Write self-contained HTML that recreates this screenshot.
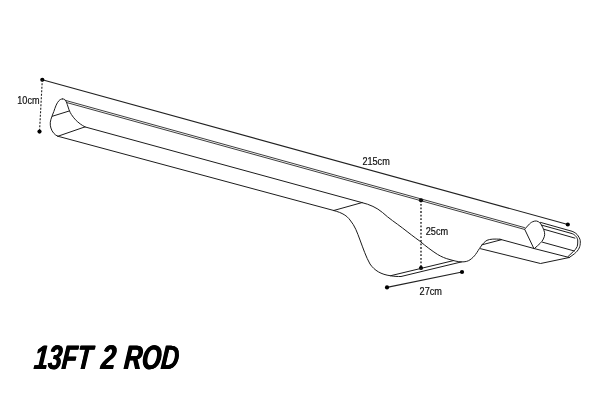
<!DOCTYPE html>
<html><head><meta charset="utf-8">
<style>
html,body{margin:0;padding:0;background:#fff;}
body{width:600px;height:400px;overflow:hidden;position:relative;filter:grayscale(1);}
svg{position:absolute;left:0;top:0;display:block}
text{font-family:"Liberation Sans",sans-serif;fill:#111;font-size:10px;stroke:#111;stroke-width:0.2px}
.l{fill:none;stroke:#1c1c1c;stroke-width:1;stroke-linecap:round;stroke-linejoin:round}
.d{fill:none;stroke:#222;stroke-width:1.1;}
.dot{fill:#000}
.t{position:absolute;top:341.3px;font:italic bold 33.9px/1 'Liberation Sans',sans-serif;color:#000;white-space:nowrap;transform-origin:0 100%;text-shadow:0.6px 0 0 #000,-0.6px 0 0 #000;}
</style></head><body>
<svg width="600" height="400" viewBox="0 0 600 400">
<!-- dimension 215 -->
<path class="d" d="M42.3 79.75 L566 224"/>
<circle class="dot" cx="42.3" cy="79.75" r="2.1"/>
<circle class="dot" cx="567.8" cy="224.5" r="2.1"/>
<!-- 10cm dashed -->
<path class="d" d="M42.3 79.75 L39.5 131.6" stroke-dasharray="2 1.5"/>
<circle class="dot" cx="39.5" cy="131.6" r="2.1"/>
<text x="17.3" y="103.7" textLength="22.2" lengthAdjust="spacingAndGlyphs">10cm</text>
<text x="362.4" y="164.7" textLength="27.4" lengthAdjust="spacingAndGlyphs">215cm</text>
<text x="425.7" y="234.5" textLength="22.4" lengthAdjust="spacingAndGlyphs">25cm</text>
<text x="419.6" y="294.7" textLength="22.4" lengthAdjust="spacingAndGlyphs">27cm</text>
<!-- 25cm dotted -->
<path class="d" d="M421 200.3 L421 268" stroke-dasharray="1.8 1.8" style="stroke:#000;stroke-width:1.2"/>
<circle class="dot" cx="421" cy="200.3" r="2.1"/>
<circle class="dot" cx="421" cy="268" r="2.1"/>
<!-- 27cm -->
<path class="d" d="M387 287.4 L462 272"/>
<circle class="dot" cx="387" cy="287.4" r="2.1"/>
<circle class="dot" cx="462" cy="272" r="2.1"/>

<!-- left end cap -->
<path class="l" d="M62.6 98.9 C61.2 98.9 60 99.6 59.1 100.5 C57.8 101.9 56.9 103.5 56.15 105.15 C55.2 107.3 54.5 109.5 53.8 111.6 C53.1 113.3 52.5 114.8 52 116.3 C51.2 118.3 50.6 120.2 50.3 122.2 C50.1 124.2 50.3 126.2 50.9 128 C51.5 130 52.5 131.8 53.8 133.3 C55 134.7 56.3 135.6 57.9 136.25"/>
<path class="l" d="M62.6 98.9 C63.8 98.9 64.9 99.4 65.55 100.45 C66.5 101.8 66.9 103.2 67.3 104.6 C67.9 106.3 68.4 108 69.05 109.85 C69.7 111.6 70.5 113.1 71.4 114.5 C72.6 116.4 74 118.1 75.5 119.8 C77 121.3 78.5 122.6 80.2 123.9 C81.8 125 83.3 126 84.9 126.9"/>
<path class="l" d="M52.2 116.3 L69.2 111"/>
<path class="l" d="M57.9 136.25 L84.9 126.9"/>
<!-- long lines -->
<path class="l" d="M65.1 100.3 L524.5 227.6" style="stroke-width:.85"/>
<path class="l" d="M66.5 102.5 L524.5 229.4" style="stroke-width:.85"/>
<path class="l" d="M84.9 126.9 L362 202.6"/>
<path class="l" d="M57.9 136.25 L333.75 210.5"/>
<path class="l" d="M333.75 210.5 L362 202.6"/>
<!-- dip -->
<path class="l" d="M333.75 210.5 C343 213 347 216 350 220 C355 226 357 232 360 240 C363 248 366 257 370 264 C374.500 270.500 381 274.5 390.5 275.75 C394 276.4 398 276.6 401 276.5 L461.5 261.9"/>
<path class="l" d="M390.5 275.75 L453.5 260.6"/>
<path class="l" d="M362 202.6 C370 204.6 376.5 207.5 382.5 212.5 C389 218.5 396 223 402.5 228 C409 233 414 237 420 241.25 C426 246.4 431.5 250.5 437.5 254.4 C441.5 256.8 445.5 258.5 450 259.6 C454 260.8 458 261.8 461.5 261.9 C465 262 468 261.3 470 259.8 C472.5 258 474 256.5 475.5 254.5 C477.5 251.8 479 249 480.5 247 C482.5 244 484.5 241.8 487 240.3 C490 239 495 238.8 500 239.25"/>
<!-- right part -->
<path class="l" d="M500 239.25 L534.35 248.6 L569.3 257.5"/>
<path class="l" d="M501.5 239.7 L482 244.8"/>
<path class="l" d="M480.5 248.7 L540.5 263.5 L569.3 257.5"/>
<!-- block -->
<path class="l" d="M524.9 228.9 L529.6 223.8 C531 222.5 532 222 533 221.6 C534.2 221.1 535.3 220.9 536.4 221 C537.8 221.2 538.9 221.9 539.75 222.7 C541 224 541.9 225.6 542.6 227.2 C543.5 229 544.2 230.6 544.5 232.25 C544.8 234 544.7 235.5 544.25 236.75 C543.8 238.3 543 239.8 542 241.25 C540.8 242.8 539.3 244.2 537.5 245.75 L534.35 248.6 Z"/>
<!-- right end -->
<path class="l" d="M540.5 222.4 L572.1 231.3 C575 232.4 577 234 578.2 236 C579.8 238.5 580.4 240 580.3 242 C580.3 244.5 580 246 579.2 248 C578 250.5 576.5 252 574.4 253.8 L569.3 257.5"/>
<path class="l" d="M541.5 225.1 L572.1 233.6 C574 234.4 575.2 235.4 576 236.4 C577.3 238 577.8 239.5 577.75 241 C577.8 243.2 577.7 245 577.2 246.5 C576.3 248.6 575 250 573.25 251.6 L568 256.6"/>
<path class="l" d="M544 229.3 L574.9 238.1"/>
<path class="l" d="M542.5 242.2 L574.4 251"/>
</svg>
<div class="t" style="left:33.4px;transform:scaleX(0.733) skewX(-7deg)">13FT</div>
<div class="t" style="left:100.1px;transform:scaleX(0.765) skewX(-7deg)">2</div>
<div class="t" style="left:123.1px;transform:scaleX(0.725) skewX(-7deg)">ROD</div>
</body></html>
